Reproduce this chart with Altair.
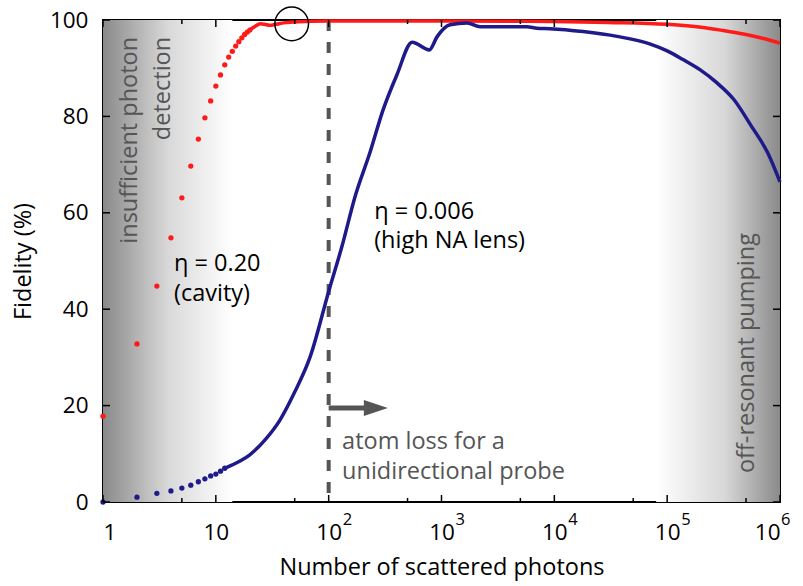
import altair as alt
import pandas as pd

# ---------------- data ----------------
red_dot_n = list(range(1, 21))
red_dot_f = [17.8, 32.8, 44.8, 54.8, 63.1, 69.7, 75.3, 79.7, 83.2, 86.3,
             88.6, 90.7, 92.3, 93.5, 94.6, 95.5, 96.3, 97.0, 97.5, 97.9]
red_line_n = [20, 22, 25, 27, 30, 34, 40, 50, 70, 100, 1000, 5000, 1e4, 3e4,
              1e5, 2e5, 3e5, 5e5, 7e5, 1e6]
red_line_f = [97.9, 98.6, 99.2, 99.1, 98.9, 99.1, 99.4, 99.6, 99.75, 99.8, 99.8,
              99.75, 99.7, 99.5, 99.1, 98.5, 97.9, 97.0, 96.2, 95.2]

blue_dot_n = list(range(1, 13))
blue_dot_f = [0.0, 1.0, 1.8, 2.3, 2.9, 3.5, 4.2, 4.8, 5.4, 5.8, 6.4, 7.0]
blue_line_n = [12, 16.4, 20, 27.3, 37, 50, 68.5, 100.9, 131, 171, 233, 303, 402,
               550, 780, 912, 1190, 1690, 2200, 5700, 7000, 9150, 1.8e4, 3.6e4,
               7.1e4, 1e5, 1.38e5, 1.95e5, 2.75e5, 3.9e5, 5.5e5, 7.8e5, 1e6]
blue_line_f = [7.0, 8.5, 9.8, 12.9, 17.0, 22.8, 30.1, 44.0, 53.0, 63.3, 72.6,
               81.3, 88.6, 95.4, 93.8, 96.5, 99.0, 99.4, 98.6, 98.6, 98.3, 98.2,
               97.6, 96.6, 95.0, 93.6, 91.8, 89.7, 87.0, 83.5, 78.2, 72.4, 66.4]

x_major = [1, 10, 100, 1e3, 1e4, 1e5, 1e6]
x_minor = [5, 50, 500, 5e3, 5e4, 5e5]
y_ticks = [0, 20, 40, 60, 80, 100]
exp_n = [100, 1e3, 1e4, 1e5]
exp_text = ["2", "3", "4", "5"]
exp_last_n = [1e6]
exp_last_text = ["6"]

left_band = [1, 14]
right_band = [8e4, 1e6]
probe_limit = 100            # dashed line position
arrow_n = [100, 240]
arrow_tip_n = 262
arrow_f = 19.5
highlight_n, highlight_f = 47, 99.2

FONT = "Open Sans"
FS = 23.5
W, H = 677, 482
GRAY = "#555555"
RED = "#ff1a1a"
BLUE = "#1f1a8a"

xs = alt.Scale(type="log", domain=[1, 1e6], nice=False)
ys = alt.Scale(domain=[0, 100], nice=False, zero=False)

df = lambda **kw: pd.DataFrame(kw)

# ---------------- background gradients ----------------
grad_left = alt.Gradient(gradient="linear", x1=0, x2=1, y1=0, y2=0,
                         stops=[alt.GradientStop(color="#8a8a8a", offset=0),
                                alt.GradientStop(color="#d8d8d8", offset=0.5),
                                alt.GradientStop(color="#ffffff", offset=1)])
grad_right = alt.Gradient(gradient="linear", x1=0, x2=1, y1=0, y2=0,
                          stops=[alt.GradientStop(color="#ffffff", offset=0),
                                 alt.GradientStop(color="#d8d8d8", offset=0.55),
                                 alt.GradientStop(color="#8a8a8a", offset=1)])

bg_left = alt.Chart(df(a=[left_band[0]], b=[left_band[1]])).mark_rect(
    color=grad_left).encode(
    x=alt.X("a:Q", scale=xs,
            axis=alt.Axis(values=x_major, ticks=False, grid=False, domain=False,
                          labelExpr="datum.value == 1 ? '1' : '10'",
                          labelFont=FONT, labelFontSize=22.5, labelColor="black",
                          labelPadding=19, labelFlush=True,
                          title="Number of scattered photons", titleFont=FONT,
                          titleFontSize=FS, titleFontWeight="normal",
                          titleColor="black", titlePadding=12)),
    x2="b:Q",
    y=alt.value(0), y2=alt.value(H))
bg_right = alt.Chart(df(a=[right_band[0]], b=[right_band[1]])).mark_rect(
    color=grad_right).encode(
    x=alt.X("a:Q", scale=xs), x2="b:Q", y=alt.value(0), y2=alt.value(H))

# ---------------- dashed line and arrow ----------------
dashed = alt.Chart(df(n=[probe_limit])).mark_rule(
    color=GRAY, strokeWidth=4, strokeDash=[11, 11]).encode(
    x=alt.X("n:Q", scale=xs), y=alt.value(0), y2=alt.value(H))
arrow_line = alt.Chart(df(a=[arrow_n[0]], b=[arrow_n[1]], f=[arrow_f])).mark_rule(
    color=GRAY, strokeWidth=5).encode(
    x=alt.X("a:Q", scale=xs), x2="b:Q", y=alt.Y("f:Q", scale=ys))
arrow_head = alt.Chart(df(n=[arrow_tip_n], f=[arrow_f])).mark_point(
    shape="M-1,-0.667L1,0L-1,0.667Z", size=576, filled=True, color=GRAY,
    opacity=1, strokeWidth=0).encode(
    x=alt.X("n:Q", scale=xs), y=alt.Y("f:Q", scale=ys))

# ---------------- curves ----------------
red_line = alt.Chart(df(n=red_line_n, f=red_line_f)).mark_line(
    color=RED, strokeWidth=3.5, interpolate="monotone").encode(
    x=alt.X("n:Q", scale=xs), y=alt.Y("f:Q", scale=ys))
red_dots = alt.Chart(df(n=red_dot_n, f=red_dot_f)).mark_circle(
    color=RED, size=28, opacity=1).encode(
    x=alt.X("n:Q", scale=xs), y=alt.Y("f:Q", scale=ys))
blue_line = alt.Chart(df(n=blue_line_n, f=blue_line_f)).mark_line(
    color=BLUE, strokeWidth=3.5, interpolate="monotone").encode(
    x=alt.X("n:Q", scale=xs), y=alt.Y("f:Q", scale=ys))
blue_dots = alt.Chart(df(n=blue_dot_n, f=blue_dot_f)).mark_circle(
    color=BLUE, size=28, opacity=1).encode(
    x=alt.X("n:Q", scale=xs),
    y=alt.Y("f:Q", scale=ys,
            axis=alt.Axis(values=y_ticks, ticks=False, grid=False, domain=False,
                          labelFont=FONT, labelFontSize=22.5, labelColor="black",
                          labelPadding=15, title="Fidelity (%)", titleFont=FONT,
                          titleFontSize=FS, titleFontWeight="normal",
                          titleColor="black", titlePadding=14)))
highlight = alt.Chart(df(n=[highlight_n], f=[highlight_f])).mark_point(
    shape="circle", filled=False, size=1134, color="black", strokeWidth=1.5,
    opacity=1).encode(x=alt.X("n:Q", scale=xs), y=alt.Y("f:Q", scale=ys))

# ---------------- inward ticks ----------------
def xticks(vals, length):
    d = df(n=vals)
    bot = alt.Chart(d).mark_rule(color="black", strokeWidth=1.5).encode(
        x=alt.X("n:Q", scale=xs), y=alt.value(H), y2=alt.value(H - length))
    top = alt.Chart(d).mark_rule(color="black", strokeWidth=1.5).encode(
        x=alt.X("n:Q", scale=xs), y=alt.value(0), y2=alt.value(length))
    return bot + top

yd = df(f=y_ticks)
ytick_l = alt.Chart(yd).mark_rule(color="black", strokeWidth=1.5).encode(
    y=alt.Y("f:Q", scale=ys), x=alt.value(0), x2=alt.value(7))
ytick_r = alt.Chart(yd).mark_rule(color="black", strokeWidth=1.5).encode(
    y=alt.Y("f:Q", scale=ys), x=alt.value(W), x2=alt.value(W - 7))

# exponents on the x tick labels
exps = alt.Chart(df(n=exp_n, t=exp_text)).mark_text(
    font=FONT, fontSize=16.5, align="left", baseline="top", color="black",
    dx=14).encode(x=alt.X("n:Q", scale=xs), y=alt.value(H + 10), text="t:N")
exps_last = alt.Chart(df(n=exp_last_n, t=exp_last_text)).mark_text(
    font=FONT, fontSize=16.5, align="left", baseline="top", color="black",
    dx=1).encode(x=alt.X("n:Q", scale=xs), y=alt.value(H + 10), text="t:N")

# ---------------- annotations ----------------
def txt(n, f, s, **kw):
    return alt.Chart(df(n=[n], f=[f], t=[s])).mark_text(font=FONT, **kw).encode(
        x=alt.X("n:Q", scale=xs), y=alt.Y("f:Q", scale=ys), text="t:N")

ann = [
    txt(1.73, 96.5, "insufficient photon", angle=270, align="right",
        baseline="middle", fontSize=FS, color=GRAY),
    txt(3.4, 96.5, "detection", angle=270, align="right", baseline="middle",
        fontSize=FS, color=GRAY),
    txt(5.12e5, 30.9, "off-resonant pumping", angle=270, align="center",
        baseline="middle", fontSize=FS, color=GRAY),
    txt(4.26, 49.4, "η = 0.20", align="left", baseline="middle", fontSize=FS,
        color="black"),
    txt(4.26, 43.2, "(cavity)", align="left", baseline="middle", fontSize=FS,
        color="black"),
    txt(253, 60.2, "η = 0.006", align="left", baseline="middle", fontSize=FS,
        color="black"),
    txt(253, 54.1, "(high NA lens)", align="left", baseline="middle",
        fontSize=FS, color="black"),
    txt(131.5, 12.4, "atom loss for a", align="left", baseline="middle",
        fontSize=FS, color=GRAY),
    txt(131.5, 6.2, "unidirectional probe", align="left", baseline="middle",
        fontSize=FS, color=GRAY),
]

chart = alt.layer(
    bg_left, bg_right, dashed, arrow_line, arrow_head,
    red_line, red_dots, blue_line, blue_dots, highlight,
    xticks(x_major, 7), xticks(x_minor, 4), ytick_l, ytick_r, exps, exps_last,
    *ann
).properties(
    width=W, height=H, autosize="none",
    padding={"left": 103, "top": 20, "right": 23, "bottom": 84},
    background="white"
).configure_view(stroke="black", strokeWidth=2)

chart.save("out.html", embed_options={"renderer": "svg", "actions": False})
